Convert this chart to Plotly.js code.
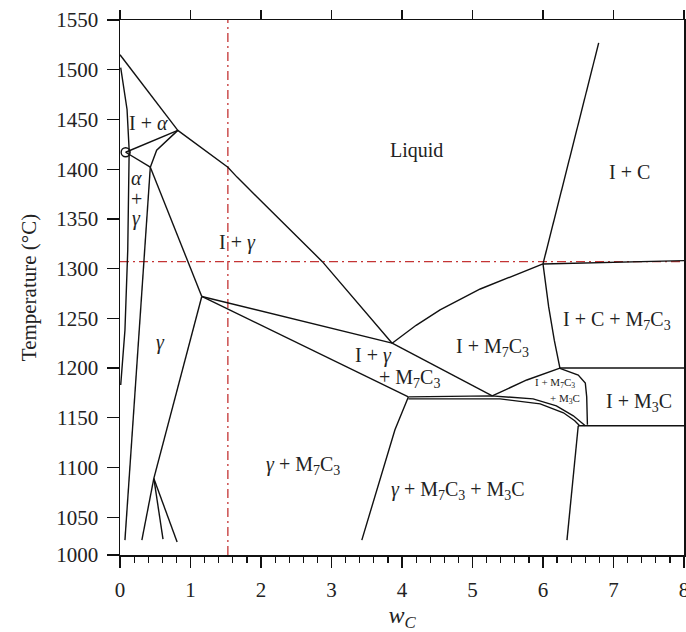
<!DOCTYPE html>
<html><head><meta charset="utf-8">
<script src="https://cdn.plot.ly/plotly-3.0.1.min.js"></script>
<style>html,body{margin:0;padding:0;background:#fff}#chart{width:686px;height:632px}</style>
</head><body><div id="chart"></div>
<script>
// ---- phase boundaries (wC, T in °C) ----
const liqAlphaX = [0, 0.82],                         liqAlphaT = [1515, 1439];
const liqGammaX = [0.82, 1.53, 1.66, 2.87, 3.86],     liqGammaT = [1439, 1402, 1392, 1307, 1225];
const alphaX    = [0.01, 0.10, 0.13, 0.11, 0.07, 0.01], alphaT = [1502, 1460, 1419, 1319, 1238, 1183];
const triAX     = [0.08, 0.82],                       triAT = [1417, 1439];
const triBX     = [0.08, 0.43],                       triBT = [1417, 1402];
const triCX     = [0.43, 0.52, 0.82],                 triCT = [1402, 1419, 1439];
const gammaLX   = [0.43, 0.07],                       gammaLT = [1402, 1027];
const solidusX  = [0.43, 1.16],                       solidusT = [1402, 1272];
const gammaRX   = [1.16, 0.48],                       gammaRT = [1272, 1089];
const br1X = [0.48, 0.31], br1T = [1089, 1027];
const br2X = [0.48, 0.61], br2T = [1089, 1028];
const br3X = [0.48, 0.81], br3T = [1089, 1025];
const upperTieX = [1.16, 3.86], upperTieT = [1272, 1225];
const lowerTieX = [1.16, 4.09], lowerTieT = [1272, 1171];
const m7TieX    = [3.86, 5.28], m7TieT = [1225, 1172];
const g3LineX   = [4.09, 3.90, 3.43], g3LineT = [1171, 1138, 1027];
const eutUpX    = [4.09, 5.27, 5.86, 6.19, 6.43, 6.55, 6.60], eutUpT = [1171, 1172, 1169, 1162, 1152, 1144.5, 1142];
const eutLoX    = [4.09, 5.39, 5.96, 6.29, 6.45, 6.52],       eutLoT = [1169, 1169, 1164, 1155, 1147, 1142];
const m7LiqX    = [3.86, 4.20, 4.54, 5.11, 6.00], m7LiqT = [1225, 1243, 1258.5, 1279.5, 1304.7];
const cLiqX     = [6.00, 6.79], cLiqT = [1304.7, 1527];
const cTieX     = [6.00, 8.00], cTieT = [1304.7, 1308];
const cM7X      = [6.00, 6.08, 6.16, 6.24], cM7T = [1304.7, 1261.7, 1228, 1200];
const smallTopX = [5.28, 5.77, 6.24], smallTopT = [1172, 1188, 1200];
const tie1200X  = [6.24, 8.00], tie1200T = [1200, 1200];
const smallRX   = [6.23, 6.50, 6.60, 6.62, 6.63], smallRT = [1200, 1193, 1185, 1171, 1143];
const tie1142X  = [6.50, 8.00], tie1142T = [1142, 1142];
const m3LineX   = [6.50, 6.34], m3LineT = [1142, 1027];
const triplePtX = [0.08], triplePtT = [1417];

// ---- alloy marker lines ----
const alloyC = 1.53;      // wt% C
const alloyT = 1307;      // °C

// ---- axes ----
const axisBottomT = 1012;
const yTickVals = [axisBottomT, 1050, 1100, 1150, 1200, 1250, 1300, 1350, 1400, 1450, 1500, 1550];
const yTickText = ['1000', '1050', '1100', '1150', '1200', '1250', '1300', '1350', '1400', '1450', '1500', '1550'];

// ---- region labels ----
const labelText = ['I + <i>α</i>', 'Liquid', 'I + C', 'I + <i>γ</i>', '<i>γ</i>',
  'I + <i>γ</i>', '+ M<sub>7</sub>C<sub>3</sub>', 'I + M<sub>7</sub>C<sub>3</sub>',
  'I + C + M<sub>7</sub>C<sub>3</sub>', 'I + M<sub>3</sub>C',
  '<i>γ</i> + M<sub>7</sub>C<sub>3</sub>', '<i>γ</i> + M<sub>7</sub>C<sub>3</sub> + M<sub>3</sub>C'];
const labelX = [0.41, 4.20, 7.23, 1.66, 0.57, 3.60, 4.11, 5.29, 7.05, 7.36, 2.60, 4.79];
const labelT = [1446, 1419, 1397, 1326, 1226, 1213, 1189, 1221, 1248, 1165, 1102, 1077];
const stackText = ['<i>α</i>', '+', '<i>γ</i>'];
const stackX = [0.24, 0.24, 0.24];
const stackT = [1391, 1370, 1350];
const smallText = ['I + M<sub>7</sub>C<sub>3</sub>', '+ M<sub>3</sub>C'];
const smallX = [6.17, 6.31];
const smallT = [1185, 1169];

const serif = '"Liberation Serif", "Times New Roman", serif';
const curves = [
  [liqAlphaX, liqAlphaT], [liqGammaX, liqGammaT], [alphaX, alphaT], [triAX, triAT], [triBX, triBT],
  [triCX, triCT], [gammaLX, gammaLT], [solidusX, solidusT], [gammaRX, gammaRT], [br1X, br1T],
  [br2X, br2T], [br3X, br3T], [upperTieX, upperTieT], [lowerTieX, lowerTieT], [m7TieX, m7TieT],
  [g3LineX, g3LineT], [eutUpX, eutUpT], [eutLoX, eutLoT], [m7LiqX, m7LiqT], [cLiqX, cLiqT],
  [cTieX, cTieT], [cM7X, cM7T], [smallTopX, smallTopT], [tie1200X, tie1200T], [smallRX, smallRT],
  [tie1142X, tie1142T], [m3LineX, m3LineT]
];
const red = 'rgb(196,52,52)';
const traces = [];
traces.push({x: [0, 8], y: [alloyT, alloyT], mode: 'lines', line: {color: red, width: 1.3, dash: '9px,4px,2px,4px'}, hoverinfo: 'skip', showlegend: false});
traces.push({x: [alloyC, alloyC], y: [axisBottomT, 1550], mode: 'lines', line: {color: red, width: 1.3, dash: '9px,4px,2px,4px'}, hoverinfo: 'skip', showlegend: false});
curves.forEach(c => traces.push({x: c[0], y: c[1], mode: 'lines', line: {color: '#111', width: 1.4}, hoverinfo: 'skip', showlegend: false}));
traces.push({x: triplePtX, y: triplePtT, mode: 'markers', marker: {symbol: 'circle-open', size: 9, color: '#111', line: {width: 1.4}}, hoverinfo: 'skip', showlegend: false});
traces.push({x: [0, 8], y: [null, null], xaxis: 'x2', mode: 'lines', hoverinfo: 'skip', showlegend: false});

const ann = [];
labelText.forEach((t, i) => ann.push({x: labelX[i], y: labelT[i], text: t, showarrow: false, font: {family: serif, size: 20, color: '#222'}}));
stackText.forEach((t, i) => ann.push({x: stackX[i], y: stackT[i], text: t, showarrow: false, font: {family: serif, size: 20, color: '#222'}}));
smallText.forEach((t, i) => ann.push({x: smallX[i], y: smallT[i], text: t, showarrow: false, font: {family: serif, size: 11, color: '#222'}}));

const layout = {
  width: 686, height: 632,
  margin: {l: 120, r: 2, t: 20, b: 77},
  paper_bgcolor: '#fff', plot_bgcolor: '#fff',
  font: {family: serif, color: '#222'},
  xaxis: {
    range: [0, 8], dtick: 1, tick0: 0, ticks: 'outside', ticklen: 11, tickwidth: 1.3, tickcolor: '#111',
    minor: {dtick: 0.2, ticks: 'outside', ticklen: 6, tickwidth: 1.2, tickcolor: '#111'},
    showline: true, linecolor: '#111', linewidth: 1.5, mirror: true,
    showgrid: false, zeroline: false, ticklabelstandoff: 4, ticklabeloverflow: 'allow',
    tickfont: {family: serif, size: 21, color: '#222'},
    title: {text: '<i>w</i><sub><i>C</i></sub>', font: {family: serif, size: 24, color: '#222'}, standoff: 10}
  },
  xaxis2: {
    overlaying: 'x', side: 'top', range: [0, 8], dtick: 1, tick0: 0, ticks: 'outside', ticklen: 9,
    tickwidth: 1.3, tickcolor: '#111', showticklabels: false, showline: false, showgrid: false, zeroline: false
  },
  yaxis: {
    range: [axisBottomT, 1550], tickvals: yTickVals, ticktext: yTickText,
    ticks: 'outside', ticklen: 12, tickwidth: 1.3, tickcolor: '#111',
    showline: true, linecolor: '#111', linewidth: 1.5, mirror: true,
    showgrid: false, zeroline: false, ticklabelstandoff: 4,
    tickfont: {family: serif, size: 21, color: '#222'},
    title: {text: 'Temperature (°C)', font: {family: serif, size: 21, color: '#222'}, standoff: 14}
  },
  annotations: ann
};
Plotly.newPlot('chart', traces, layout, {displayModeBar: false, staticPlot: true});
</script>
</body></html>
